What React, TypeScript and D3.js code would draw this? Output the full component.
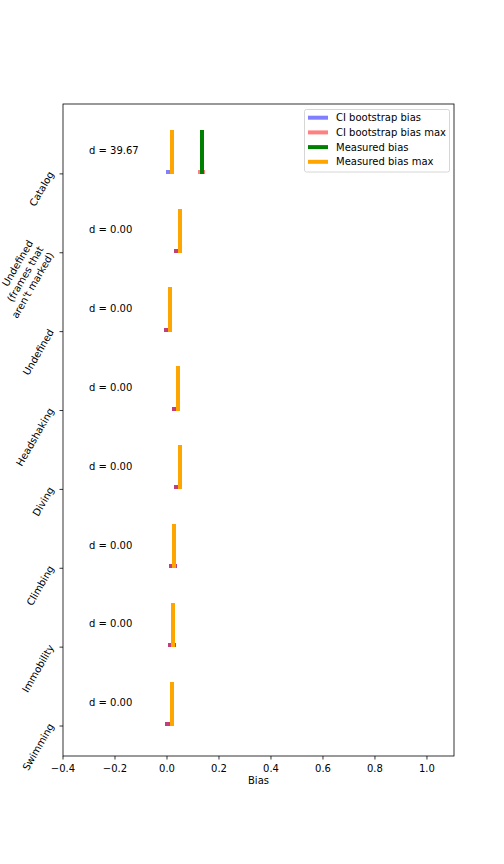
import { useEffect, useRef } from 'react';
import * as d3 from 'd3';

// ─── Data (bottom → top) ────────────────────────────────────

const categories = [
  'Swimming',
  'Immobility',
  'Climbing',
  'Diving',
  'Headshaking',
  'Undefined',
  "Undefined\n(frames that\naren't marked)",
  'Catalog',
];
const ciBias = [0.006, 0.018, 0.024, 0.041, 0.034, 0.003, 0.041, 0.010];
const ciBiasMax = [0.006, 0.018, 0.024, 0.041, 0.034, 0.003, 0.041, 0.133];
const measuredBias = [0.018, 0.022, 0.026, 0.049, 0.041, 0.010, 0.049, 0.133];
const measuredBiasMax = [0.018, 0.022, 0.026, 0.049, 0.041, 0.010, 0.049, 0.018];
const dValues = [0.0, 0.0, 0.0, 0.0, 0.0, 0.0, 0.0, 39.67];
const xTicks = [-0.4, -0.2, 0.0, 0.2, 0.4, 0.6, 0.8, 1.0];

// ─── Layout ─────────────────────────────────────────────────

const W = 504;
const H = 864;
const AX = { left: 63, right: 454, top: 104, bottom: 756 };
const FONT = 'DejaVu Sans, sans-serif';
const ROT = 60;

const SERIES = [
  { key: 'CI bootstrap bias', values: ciBias, color: '#8080ff', fill: '#8080ff', op: 1, w: 0.03, h: 0.05 },
  { key: 'CI bootstrap bias max', values: ciBiasMax, color: '#ff8080', fill: '#ff0000', op: 0.5, w: 0.03, h: 0.05 },
  { key: 'Measured bias', values: measuredBias, color: '#008000', fill: '#008000', op: 1, w: 0.015, h: 0.56 },
  { key: 'Measured bias max', values: measuredBiasMax, color: '#ffa500', fill: '#ffa500', op: 1, w: 0.015, h: 0.56 },
];

export default function App() {
  const svgRef = useRef<SVGSVGElement>(null);

  useEffect(() => {
    document.body.style.margin = '0';
    if (!svgRef.current) return;
    const svg = d3.select(svgRef.current);
    svg.selectAll('*').remove();

    const x = d3.scaleLinear().domain([-0.4, 1.104]).range([AX.left, AX.right]);
    const y = d3.scaleLinear().domain([-0.38, 7.886]).range([AX.bottom, AX.top]);

    svg.append('rect').attr('width', W).attr('height', H).attr('fill', '#fff');

    // Bars
    SERIES.forEach((s) => {
      svg.append('g')
        .attr('shape-rendering', 'crispEdges')
        .selectAll('rect')
        .data(s.values)
        .join('rect')
        .attr('x', (d) => x(d - s.w / 2))
        .attr('y', (_, i) => y(i + s.h))
        .attr('width', x(s.w) - x(0))
        .attr('height', (_, i) => y(i) - y(i + s.h))
        .attr('fill', s.fill)
        .attr('fill-opacity', s.op);
    });

    // d labels
    svg.append('g')
      .selectAll('text')
      .data(dValues)
      .join('text')
      .attr('x', x(-0.3))
      .attr('y', (_, i) => y(i + 0.25))
      .attr('font-family', FONT)
      .attr('font-size', 10)
      .attr('fill', '#000')
      .text((d) => `d = ${d.toFixed(2)}`);

    // Spines
    svg.append('rect')
      .attr('x', AX.left).attr('y', AX.top)
      .attr('width', AX.right - AX.left).attr('height', AX.bottom - AX.top)
      .attr('fill', 'none').attr('stroke', '#000').attr('stroke-width', 0.8);

    // X axis
    const xg = svg.append('g');
    xTicks.forEach((t) => {
      xg.append('line')
        .attr('x1', x(t)).attr('x2', x(t))
        .attr('y1', AX.bottom).attr('y2', AX.bottom + 3.5)
        .attr('stroke', '#000').attr('stroke-width', 0.8);
      xg.append('text')
        .attr('x', x(t)).attr('y', AX.bottom + 16)
        .attr('text-anchor', 'middle')
        .attr('font-family', FONT).attr('font-size', 10)
        .text(d3.format('.1f')(t).replace('-', '\u2212'));
    });
    svg.append('text')
      .attr('x', (AX.left + AX.right) / 2).attr('y', AX.bottom + 28)
      .attr('text-anchor', 'middle')
      .attr('font-family', FONT).attr('font-size', 10)
      .text('Bias');

    // Y axis — rotated labels, rotated bbox right-aligned to the tick
    const yg = svg.append('g');
    const a = (ROT * Math.PI) / 180;
    categories.forEach((c, i) => {
      const ty = y(i);
      yg.append('line')
        .attr('x1', AX.left - 3.5).attr('x2', AX.left)
        .attr('y1', ty).attr('y2', ty)
        .attr('stroke', '#000').attr('stroke-width', 0.8);
      const lines = c.split('\n');
      const t = yg.append('text')
        .attr('text-anchor', 'end')
        .attr('font-family', FONT).attr('font-size', 10);
      lines.forEach((ln, k) => {
        t.append('tspan').attr('x', 0).attr('y', k * 12).text(ln);
      });
      const bb = (t.node() as SVGTextElement).getBBox();
      const corners = [
        [bb.x, bb.y], [bb.x + bb.width, bb.y],
        [bb.x, bb.y + bb.height], [bb.x + bb.width, bb.y + bb.height],
      ].map(([px, py]) => [
        px * Math.cos(a) + py * Math.sin(a),
        -px * Math.sin(a) + py * Math.cos(a),
      ]);
      const maxX = d3.max(corners, (p) => p[0])!;
      const minY = d3.min(corners, (p) => p[1])!;
      const k = 4.5 + (lines.length - 1) * 5;
      const dx = AX.left - 7 - maxX;
      const dy = ty - k - minY;
      t.attr('transform', `translate(${dx},${dy}) rotate(${-ROT})`);
    });

    // Legend
    const lg = svg.append('g');
    lg.append('rect')
      .attr('x', 304.5).attr('y', 109.5)
      .attr('width', 145).attr('height', 62.5)
      .attr('rx', 2)
      .attr('fill', '#fff').attr('fill-opacity', 0.8)
      .attr('stroke', '#cccccc').attr('stroke-width', 0.8);
    SERIES.forEach((s, k) => {
      const ly = 117.7 + k * 14.7;
      lg.append('line')
        .attr('x1', 308).attr('x2', 328)
        .attr('y1', ly).attr('y2', ly)
        .attr('stroke', s.color).attr('stroke-width', 4);
      lg.append('text')
        .attr('x', 336).attr('y', ly)
        .attr('dominant-baseline', 'central')
        .attr('font-family', FONT).attr('font-size', 10)
        .text(s.key);
    });
  }, []);

  return <svg ref={svgRef} width={W} height={H} style={{ display: 'block' }} />;
}
